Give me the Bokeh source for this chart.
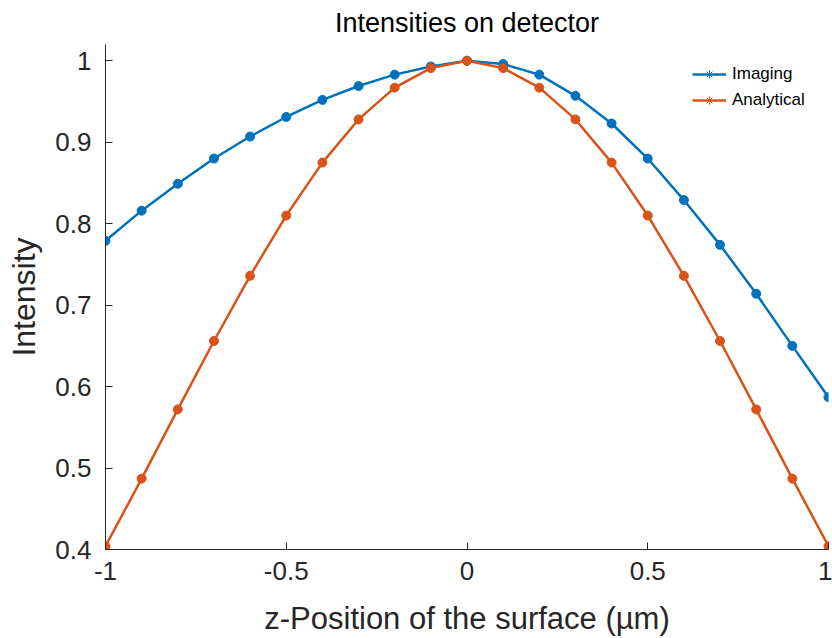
from bokeh.plotting import figure
from bokeh.models import FixedTicker, Legend, LegendItem, Range1d
from bokeh.embed import file_html
from bokeh.resources import INLINE

z = [-1.0, -0.9, -0.8, -0.7, -0.6, -0.5, -0.4, -0.3, -0.2, -0.1, 0.0,
     0.1, 0.2, 0.3, 0.4, 0.5, 0.6, 0.7, 0.8, 0.9, 1.0]
imaging = [0.779, 0.816, 0.849, 0.880, 0.907, 0.931, 0.952, 0.969, 0.983, 0.993, 1.0,
           0.996, 0.983, 0.957, 0.923, 0.880, 0.829, 0.774, 0.714, 0.650, 0.587]
analytical = [0.404, 0.487, 0.572, 0.656, 0.736, 0.810, 0.875, 0.928, 0.967, 0.991, 1.0,
              0.991, 0.967, 0.928, 0.875, 0.810, 0.736, 0.656, 0.572, 0.487, 0.404]

x_ticks = [-1, -0.5, 0, 0.5, 1]
x_tick_labels = ["-1", "-0.5", "0", "0.5", "1"]
y_ticks = [0.4, 0.5, 0.6, 0.7, 0.8, 0.9, 1.0]
y_tick_labels = ["0.4", "0.5", "0.6", "0.7", "0.8", "0.9", "1"]

BLUE = "#0072BD"
ORANGE = "#D95319"
DARK = "#262626"
FONT = "Liberation Sans"

p = figure(width=832, height=638, output_backend="svg", toolbar_location=None,
           x_range=Range1d(-1, 1), y_range=Range1d(0.4, 1.02),
           title="Intensities on detector",
           min_border_left=105, min_border_right=4, min_border_top=44, min_border_bottom=89)
p.outline_line_color = None
p.grid.visible = False
p.background_fill_color = "white"

p.title.align = "center"
p.title.vertical_align = "top"
p.title.text_font = FONT
p.title.text_font_size = "27px"
p.title.text_font_style = "normal"
p.title.text_color = "black"
p.title.offset = 0
p.title.standoff = 10

for ax in (p.xaxis[0], p.yaxis[0]):
    ax.axis_line_color = DARK
    ax.major_tick_line_color = DARK
    ax.major_tick_in = 7
    ax.major_tick_out = 0
    ax.minor_tick_line_color = None
    ax.major_label_text_font = FONT
    ax.major_label_text_font_size = "26px"
    ax.major_label_text_color = DARK
    ax.axis_label_text_font = FONT
    ax.axis_label_text_font_style = "normal"
    ax.axis_label_text_color = DARK

p.xaxis.axis_label_text_font_size = "31px"
p.yaxis.axis_label_text_font_size = "32px"
p.xaxis.axis_label_text_line_height = 0.8
p.xaxis.ticker = FixedTicker(ticks=x_ticks)
p.xaxis.major_label_overrides = {t: l for t, l in zip(x_ticks, x_tick_labels)}
p.yaxis.ticker = FixedTicker(ticks=y_ticks)
p.yaxis.major_label_overrides = {t: l for t, l in zip(y_ticks, y_tick_labels)}
p.xaxis.axis_label = "z-Position of the surface (µm)"
p.yaxis.axis_label = "Intensity"
p.xaxis.major_label_standoff = 12
p.yaxis.major_label_standoff = 14
p.xaxis.axis_label_standoff = 18
p.yaxis.axis_label_standoff = 10

l1 = p.line(z, imaging, line_color=BLUE, line_width=2.5)
c1 = p.scatter(z, imaging, marker="circle", size=9, fill_color=BLUE, line_color=BLUE)
l2 = p.line(z, analytical, line_color=ORANGE, line_width=2.5)
c2 = p.scatter(z, analytical, marker="circle", size=9, fill_color=ORANGE, line_color=ORANGE)

nan = float("nan")
a1 = p.scatter([nan], [nan], marker="asterisk", size=10, line_color=BLUE, line_width=1)
a2 = p.scatter([nan], [nan], marker="asterisk", size=10, line_color=ORANGE, line_width=1)

legend = Legend(items=[LegendItem(label="Imaging", renderers=[l1, a1]),
                       LegendItem(label="Analytical", renderers=[l2, a2])],
                location=(587, 439), padding=0, spacing=6,
                glyph_width=34, glyph_height=20, label_height=20, label_standoff=6,
                label_text_font=FONT, label_text_font_size="17px", label_text_color="black",
                border_line_color=None, background_fill_alpha=0)
p.add_layout(legend)

open("out.html", "w").write(file_html(p, INLINE))
